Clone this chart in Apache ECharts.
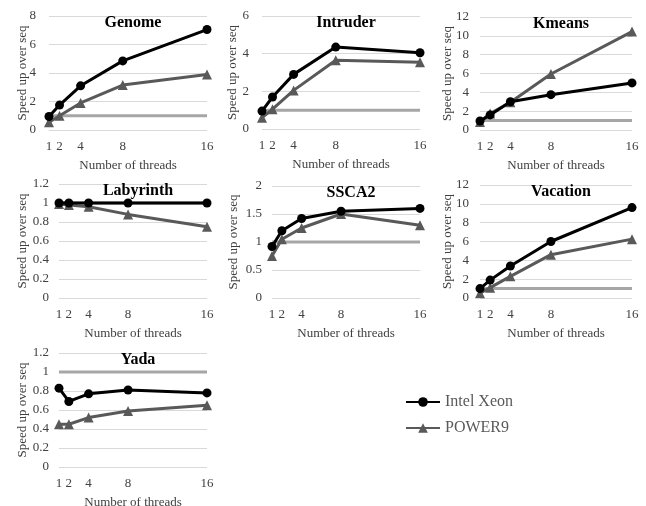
<!DOCTYPE html>
<html><head><meta charset="utf-8">
<script src="https://cdn.jsdelivr.net/npm/echarts@6/dist/echarts.min.js"></script>
<style>html,body{margin:0;padding:0;background:#fff}#c{width:646px;height:506px}</style>
</head><body><div id="c"></div>
<script>
const threads = [1, 2, 4, 8, 16];
const xTickLabels = [1, 2, 4, 8, 16];
const seqBaseline = [1, 1, 1, 1, 1];

const genomeIntel = [0.95, 1.75, 3.1, 4.85, 7.05];
const genomePower = [0.55, 1.0, 1.9, 3.15, 3.9];
const intruderIntel = [0.95, 1.7, 2.9, 4.35, 4.05];
const intruderPower = [0.6, 1.05, 2.05, 3.65, 3.55];
const kmeansIntel = [0.95, 1.6, 3.0, 3.75, 5.0];
const kmeansPower = [0.85, 1.75, 2.95, 5.95, 10.45];
const labyrinthIntel = [1.0, 1.0, 1.0, 1.0, 1.0];
const labyrinthPower = [0.99, 0.98, 0.96, 0.88, 0.75];
const ssca2Intel = [0.92, 1.2, 1.42, 1.55, 1.6];
const ssca2Power = [0.75, 1.05, 1.25, 1.5, 1.3];
const vacationIntel = [1.0, 1.9, 3.4, 6.0, 9.6];
const vacationPower = [0.5, 1.1, 2.3, 4.6, 6.25];
const yadaIntel = [0.83, 0.69, 0.77, 0.81, 0.78];
const yadaPower = [0.45, 0.45, 0.52, 0.59, 0.65];

const panels = [
  {name:'Genome', intel:genomeIntel, power:genomePower, max:8, step:2, left:49, top:16, w:158, h:114, lm:13, ng:20},
  {name:'Intruder', intel:intruderIntel, power:intruderPower, max:6, step:2, left:262, top:16, w:158, h:113, lm:13, ng:23},
  {name:'Kmeans', intel:kmeansIntel, power:kmeansPower, max:12, step:2, left:480, top:17, w:152, h:113, lm:11, ng:26},
  {name:'Labyrinth', intel:labyrinthIntel, power:labyrinthPower, max:1.2, step:0.2, left:59, top:184, w:148, h:114, lm:10, ng:30},
  {name:'SSCA2', intel:ssca2Intel, power:ssca2Power, max:2, step:0.5, left:272, top:186, w:148, h:112, lm:10, ng:32},
  {name:'Vacation', intel:vacationIntel, power:vacationPower, max:12, step:2, left:480, top:185, w:152, h:113, lm:11, ng:26},
  {name:'Yada', intel:yadaIntel, power:yadaPower, max:1.2, step:0.2, left:59, top:353, w:148, h:114, lm:10, ng:30}
];

const FONT = 'Liberation Serif';
const grid = [], xAxis = [], yAxis = [], series = [], title = [];
panels.forEach((p, i) => {
  grid.push({left:p.left, top:p.top, width:p.w, height:p.h, outerBoundsMode:'none', containLabel:false});
  title.push({text:p.name, left:p.left + p.w/2, top:p.top - 6, textAlign:'center',
    textStyle:{fontFamily:FONT, fontWeight:'bold', fontSize:16, color:'#000'}});
  xAxis.push({type:'value', gridIndex:i, min:1, max:16, interval:1,
    name:'Number of threads', nameLocation:'middle', nameGap:29, nameMoveOverlap:false,
    nameTextStyle:{fontFamily:FONT, fontSize:13, color:'#404040'},
    axisLine:{show:false}, axisTick:{show:false}, splitLine:{show:false},
    axisLabel:{fontFamily:FONT, fontSize:13, color:'#404040', margin:10,
      formatter: v => xTickLabels.indexOf(v) >= 0 ? String(v) : ''}});
  yAxis.push({type:'value', gridIndex:i, min:0, max:p.max, interval:p.step,
    name:'Speed up over seq', nameLocation:'middle', nameGap:p.ng, nameMoveOverlap:false,
    nameTextStyle:{fontFamily:FONT, fontSize:13, color:'#404040'},
    axisLine:{show:false}, axisTick:{show:false},
    splitLine:{show:true, lineStyle:{color:'#d9d9d9', width:1}},
    axisLabel:{fontFamily:FONT, fontSize:13, color:'#404040', margin:p.lm,
      formatter: v => String(Math.round(v*10)/10)}});
  series.push({name:'seq', type:'line', xAxisIndex:i, yAxisIndex:i, symbol:'none',
    lineStyle:{color:'#a6a6a6', width:3}, itemStyle:{color:'#a6a6a6'}, z:1,
    data: threads.map((t, k) => [t, seqBaseline[k]])});
  series.push({name:'POWER9', type:'line', xAxisIndex:i, yAxisIndex:i, symbol:'triangle', symbolSize:10,
    lineStyle:{color:'#595959', width:3}, itemStyle:{color:'#595959'}, z:2,
    data: threads.map((t, k) => [t, p.power[k]])});
  series.push({name:'Intel Xeon', type:'line', xAxisIndex:i, yAxisIndex:i, symbol:'circle', symbolSize:9,
    lineStyle:{color:'#000', width:3}, itemStyle:{color:'#000'}, z:3,
    data: threads.map((t, k) => [t, p.intel[k]])});
});

const chart = echarts.init(document.getElementById('c'), null, {renderer:'canvas'});
chart.setOption({
  animation:false,
  backgroundColor:'#fff',
  title, grid, xAxis, yAxis, series,
  legend:{data:['Intel Xeon','POWER9'], orient:'vertical', left:400, top:389,
    itemWidth:34, itemHeight:12, itemGap:10,
    textStyle:{fontFamily:FONT, fontSize:16, color:'#595959'}}
});
</script></body></html>
